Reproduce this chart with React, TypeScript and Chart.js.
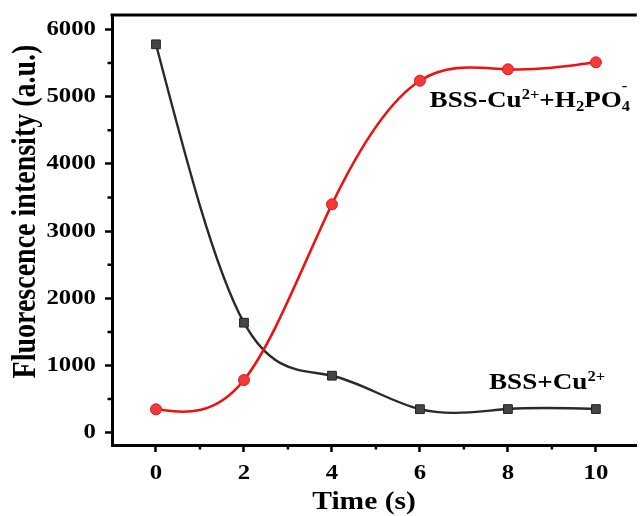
import React, { useEffect, useRef } from "react";
import { Chart, registerables } from "chart.js";

Chart.register(...registerables);

// ---- data ----
const timeValues = [0, 2, 4, 6, 8, 10];
const bssCu = [5780, 1637, 848, 350, 352, 352];
const bssCuH2PO4 = [348, 784, 3399, 5238, 5408, 5512];
const xMajorTicks = [0, 2, 4, 6, 8, 10];
const xMinorTicks = [1, 3, 5, 7, 9];
const yMajorTicks = [0, 1000, 2000, 3000, 4000, 5000, 6000];
const yMinorTicks = [500, 1500, 2500, 3500, 4500, 5500];
const xAxisTitle = "Time (s)";
const yAxisTitle = "Fluorescence intensity (a.u.)";

// annotation labels (anchored in data coordinates: left edge, baseline)
type Piece = { text: string; kind: "n" | "sup" | "sub" | "supHigh"; stack?: boolean };
const labelRed: Piece[] = [
  { text: "BSS-Cu", kind: "n" },
  { text: "2+", kind: "sup" },
  { text: "+H", kind: "n" },
  { text: "2", kind: "sub" },
  { text: "PO", kind: "n" },
  { text: "4", kind: "sub" },
  { text: "-", kind: "supHigh", stack: true },
];
const labelBlack: Piece[] = [
  { text: "BSS+Cu", kind: "n" },
  { text: "2+", kind: "sup" },
];
const labelRedAnchor = { x: 6.22, y: 4850 };
const labelBlackAnchor = { x: 7.57, y: 650 };

const FONT = "'Liberation Serif', 'Times New Roman', serif";
const STRETCH = 1.18;

function stretchText(ctx: CanvasRenderingContext2D) {
  const orig = ctx.fillText.bind(ctx);
  (ctx as any).fillText = (text: string, x: number, y: number, maxWidth?: number) => {
    const m = ctx.getTransform();
    const p = m.transformPoint(new DOMPoint(x, y));
    ctx.save();
    ctx.setTransform(
      new DOMMatrix().translate(p.x, p.y).scale(STRETCH, 1).translate(-p.x, -p.y).multiply(m)
    );
    if (maxWidth !== undefined && maxWidth !== null) orig(text, x, y, maxWidth);
    else orig(text, x, y);
    ctx.restore();
  };
}

// natural cubic spline through the rendered points, expressed as Bezier control points
const splinePlugin = {
  id: "naturalSpline",
  beforeDatasetDraw(chart: any, args: any) {
    const meta = args.meta;
    const line = meta.dataset;
    if (!line) return;
    line.updateControlPoints(chart.chartArea, meta.indexAxis);
    const pts = meta.data;
    const n = pts.length;
    if (n < 3) return;
    const h: number[] = [];
    for (let i = 0; i < n - 1; i++) h.push(pts[i + 1].x - pts[i].x);
    const M = new Array(n).fill(0);
    const a: number[] = [], b: number[] = [], c: number[] = [], d: number[] = [];
    for (let i = 1; i < n - 1; i++) {
      a.push(h[i - 1]);
      b.push(2 * (h[i - 1] + h[i]));
      c.push(h[i]);
      d.push(6 * ((pts[i + 1].y - pts[i].y) / h[i] - (pts[i].y - pts[i - 1].y) / h[i - 1]));
    }
    const m = b.length;
    for (let i = 1; i < m; i++) {
      const w = a[i] / b[i - 1];
      b[i] -= w * c[i - 1];
      d[i] -= w * d[i - 1];
    }
    const sol = new Array(m).fill(0);
    sol[m - 1] = d[m - 1] / b[m - 1];
    for (let i = m - 2; i >= 0; i--) sol[i] = (d[i] - c[i] * sol[i + 1]) / b[i];
    for (let i = 0; i < m; i++) M[i + 1] = sol[i];
    for (let i = 0; i < n - 1; i++) {
      const p0 = pts[i], p1 = pts[i + 1];
      const hh = h[i];
      const s = (p1.y - p0.y) / hh;
      const d0 = s - (hh * (2 * M[i] + M[i + 1])) / 6;
      const d1 = s + (hh * (M[i] + 2 * M[i + 1])) / 6;
      p0.cp2x = p0.x + hh / 3;
      p0.cp2y = p0.y + (d0 * hh) / 3;
      p1.cp1x = p1.x - hh / 3;
      p1.cp1y = p1.y - (d1 * hh) / 3;
    }
  },
};

const framePlugin = {
  id: "frame",
  afterDraw(chart: any) {
    const { ctx, chartArea } = chart;
    const xs = chart.scales.x;
    const ys = chart.scales.y;
    ctx.save();
    ctx.strokeStyle = "#000";
    ctx.lineWidth = 3;
    ctx.beginPath();
    ctx.moveTo(chartArea.left - 1.5, chartArea.top);
    ctx.lineTo(chartArea.right, chartArea.top);
    ctx.stroke();
    ctx.lineWidth = 2.5;
    ctx.beginPath();
    xMinorTicks.forEach((v) => {
      const px = xs.getPixelForValue(v);
      ctx.moveTo(px, chartArea.bottom);
      ctx.lineTo(px, chartArea.bottom + 4.5);
    });
    yMinorTicks.forEach((v) => {
      const py = ys.getPixelForValue(v);
      ctx.moveTo(chartArea.left, py);
      ctx.lineTo(chartArea.left - 4.5, py);
    });
    ctx.stroke();

    // axis titles
    ctx.fillStyle = "#000";
    ctx.textAlign = "center";
    ctx.font = `bold 25px ${FONT}`;
    ctx.textBaseline = "alphabetic";
    ctx.fillText(xAxisTitle, chartArea.left + 252, chartArea.bottom + 64);
    ctx.save();
    ctx.translate(chartArea.left - 86, chartArea.top + 196.5);
    ctx.rotate(-Math.PI / 2);
    ctx.font = `bold 28px ${FONT}`;
    ctx.textBaseline = "middle";
    ctx.fillText(yAxisTitle, 0, 0);
    ctx.restore();
    ctx.restore();
  },
};

function drawLabel(chart: any, pieces: Piece[], anchor: { x: number; y: number }) {
  const { ctx } = chart;
  let x = chart.scales.x.getPixelForValue(anchor.x);
  const y0 = chart.scales.y.getPixelForValue(anchor.y);
  let prevX = x;
  ctx.save();
  ctx.fillStyle = "#000";
  ctx.textAlign = "left";
  ctx.textBaseline = "alphabetic";
  pieces.forEach((p) => {
    let size = 23;
    let dy = 0;
    if (p.kind === "sup") { size = 14; dy = -8; }
    if (p.kind === "sub") { size = 14; dy = 4; }
    if (p.kind === "supHigh") { size = 14; dy = -17; }
    ctx.font = `bold ${size}px ${FONT}`;
    const start = p.stack ? prevX : x;
    ctx.fillText(p.text, start, y0 + dy);
    const w = ctx.measureText(p.text).width * STRETCH;
    if (!p.stack) { prevX = x; x += w; }
  });
  ctx.restore();
}

const labelPlugin = {
  id: "curveLabels",
  afterDatasetsDraw(chart: any) {
    drawLabel(chart, labelRed, labelRedAnchor);
    drawLabel(chart, labelBlack, labelBlackAnchor);
  },
};

export default function App() {
  const canvasRef = useRef<HTMLCanvasElement | null>(null);

  useEffect(() => {
    const canvas = canvasRef.current;
    if (!canvas) return;
    const ctx = canvas.getContext("2d") as CanvasRenderingContext2D;
    stretchText(ctx);
    const chart = new Chart(ctx, {
      type: "line",
      data: {
        datasets: [
          {
            label: "BSS-Cu2++H2PO4-",
            data: timeValues.map((t, i) => ({ x: t, y: bssCuH2PO4[i] })),
            borderColor: "#f01010",
            backgroundColor: "#f23a3a",
            pointBorderColor: "#e81818",
            pointBackgroundColor: "#f23a3a",
            pointStyle: "circle",
            pointRadius: 5.5,
            pointBorderWidth: 1,
            borderWidth: 2.6,
            tension: 0.4,
            order: 0,
          },
          {
            label: "BSS+Cu2+",
            data: timeValues.map((t, i) => ({ x: t, y: bssCu[i] })),
            borderColor: "#2a2a2a",
            backgroundColor: "#454545",
            pointBorderColor: "#222",
            pointBackgroundColor: "#454545",
            pointStyle: "rect",
            pointRadius: 6.2,
            pointBorderWidth: 1,
            borderWidth: 2.4,
            tension: 0.4,
            order: 1,
          },
        ],
      },
      options: {
        responsive: false,
        animation: false,
        layout: { padding: { left: 0, right: 0, top: 15, bottom: 0 } },
        plugins: {
          legend: { display: false },
          tooltip: { enabled: false },
        },
        scales: {
          x: {
            type: "linear",
            min: -1,
            max: 10.93,
            afterBuildTicks: (axis: any) => {
              axis.ticks = xMajorTicks.map((v) => ({ value: v }));
            },
            afterFit: (scale: any) => {
              scale.height = 71;
              scale.paddingLeft = 0;
              scale.paddingRight = 0;
            },
            grid: {
              display: true,
              drawOnChartArea: false,
              drawTicks: true,
              tickLength: 7,
              tickWidth: 2.5,
              tickColor: "#000",
            },
            border: { display: true, color: "#000", width: 3 },
            ticks: {
              color: "#000",
              padding: 9,
              maxRotation: 0,
              callback: (v: any) => String(v),
              font: { family: FONT, size: 21, weight: "bold" },
            },
            title: { display: false, text: xAxisTitle },
          },
          y: {
            type: "linear",
            min: -183,
            max: 6216,
            afterBuildTicks: (axis: any) => {
              axis.ticks = yMajorTicks.map((v) => ({ value: v }));
            },
            afterFit: (scale: any) => {
              scale.width = 112;
              scale.paddingTop = 0;
              scale.paddingBottom = 0;
            },
            grid: {
              display: true,
              drawOnChartArea: false,
              drawTicks: true,
              tickLength: 7,
              tickWidth: 2.5,
              tickColor: "#000",
            },
            border: { display: true, color: "#000", width: 3 },
            ticks: {
              color: "#000",
              padding: 9,
              callback: (v: any) => String(v),
              font: { family: FONT, size: 21, weight: "bold" },
            },
            title: { display: false, text: yAxisTitle },
          },
        },
      },
      plugins: [splinePlugin, framePlugin, labelPlugin],
    });
    return () => chart.destroy();
  }, []);

  return (
    <div style={{ position: "absolute", left: 0, top: 0, width: 644, height: 516, background: "#fff" }}>
      <canvas ref={canvasRef} width={644} height={516} style={{ display: "block" }} />
    </div>
  );
}
